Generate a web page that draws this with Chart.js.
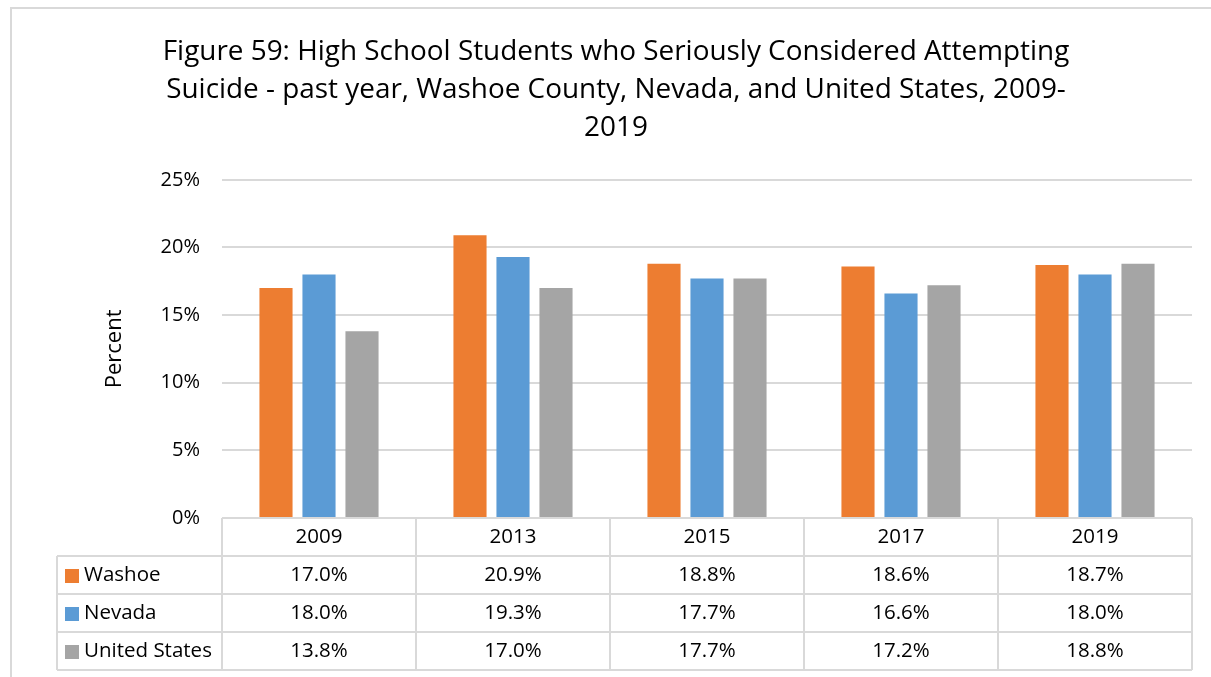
<!DOCTYPE html>
<html lang="en">
<head>
    <meta charset="UTF-8">
    <title>Figure 59</title>
    <script src="https://cdn.jsdelivr.net/npm/chart.js"></script>
    <style>
        body { margin: 0; background: #fff; }
        canvas { display: block; }
    </style>
</head>
<body>
<canvas id="suicideChart" width="1211" height="677"></canvas>

<script>
    // data
    const years = ['2009', '2013', '2015', '2017', '2019'];
    const washoe = [17.0, 20.9, 18.8, 18.6, 18.7];
    const nevada = [18.0, 19.3, 17.7, 16.6, 18.0];
    const unitedStates = [13.8, 17.0, 17.7, 17.2, 18.8];
    const yTicks = [0, 5, 10, 15, 20, 25];

    const FONT = '"Open Sans", Lato, sans-serif';
    const gridColor = '#d9d9d9';

    const series = [
        { label: 'Washoe', data: washoe, color: '#ed7d31' },
        { label: 'Nevada', data: nevada, color: '#5b9bd5' },
        { label: 'United States', data: unitedStates, color: '#a5a5a5' }
    ];

    // outer frame + the data table under the plot
    const frameAndTable = {
        id: 'frameAndTable',
        beforeDraw(chart) {
            const ctx = chart.ctx;
            ctx.save();
            ctx.strokeStyle = gridColor;
            ctx.lineWidth = 2;
            ctx.strokeRect(11, 8, 1300, 800);
            ctx.restore();
        },
        afterDraw(chart) {
            const ctx = chart.ctx;
            const area = chart.chartArea;
            const xScale = chart.scales.x;
            const rowH = 38;
            const top = area.bottom;
            const legendLeft = 57;
            const colW = (area.right - area.left) / years.length;

            ctx.save();
            ctx.strokeStyle = gridColor;
            ctx.lineWidth = 2;
            ctx.beginPath();
            // header row
            ctx.moveTo(area.left, top);
            ctx.lineTo(area.right, top);
            for (let r = 1; r <= series.length + 1; r++) {
                ctx.moveTo(legendLeft, top + r * rowH);
                ctx.lineTo(area.right, top + r * rowH);
            }
            for (let c = 0; c <= years.length; c++) {
                const x = area.left + c * colW;
                ctx.moveTo(x, top);
                ctx.lineTo(x, top + (series.length + 1) * rowH);
            }
            ctx.moveTo(legendLeft, top + rowH);
            ctx.lineTo(legendLeft, top + (series.length + 1) * rowH);
            ctx.stroke();

            ctx.fillStyle = '#000';
            ctx.font = '20.5px ' + FONT;
            ctx.textBaseline = 'middle';
            ctx.textAlign = 'center';
            years.forEach((yr, i) => {
                ctx.fillText(yr, xScale.getPixelForValue(i), top + rowH / 2);
            });
            series.forEach((s, r) => {
                const cy = top + (r + 1) * rowH + rowH / 2;
                ctx.fillStyle = s.color;
                ctx.fillRect(65, cy - 6, 14, 14);
                ctx.fillStyle = '#000';
                ctx.textAlign = 'left';
                ctx.fillText(s.label, 84, cy);
                ctx.textAlign = 'center';
                s.data.forEach((v, i) => {
                    ctx.fillText(v.toFixed(1) + '%', xScale.getPixelForValue(i), cy);
                });
            });
            ctx.restore();
        }
    };

    const ctx = document.getElementById('suicideChart').getContext('2d');
    new Chart(ctx, {
        type: 'bar',
        data: {
            labels: years,
            datasets: series.map(s => ({
                label: s.label,
                data: s.data,
                backgroundColor: s.color,
                borderWidth: 0,
                categoryPercentage: 0.665,
                barPercentage: 0.77
            }))
        },
        options: {
            responsive: false,
            animation: false,
            layout: { padding: { left: 40, right: 19, top: 0, bottom: 159 } },
            plugins: {
                legend: { display: false },
                tooltip: { enabled: false },
                title: {
                    display: true,
                    text: [
                        'Figure 59: High School Students who Seriously Considered Attempting',
                        'Suicide - past year, Washoe County, Nevada, and United States, 2009-',
                        '2019'
                    ],
                    color: '#000',
                    font: { family: FONT, size: 27.9, weight: 'normal', lineHeight: 1.36 },
                    padding: { top: 33, bottom: 33 }
                }
            },
            scales: {
                x: { display: false },
                y: {
                    min: 0,
                    max: 25,
                    afterBuildTicks(scale) {
                        scale.ticks = yTicks.map(v => ({ value: v }));
                    },
                    afterFit(scale) { scale.width = 182; },
                    border: { display: false },
                    grid: { color: gridColor, lineWidth: 2, drawTicks: false },
                    ticks: {
                        padding: 22,
                        color: '#000',
                        font: { family: FONT, size: 20 },
                        callback: v => v + '%'
                    },
                    title: {
                        display: true,
                        text: 'Percent',
                        color: '#000',
                        font: { family: FONT, size: 22 },
                        padding: { top: 62, bottom: 0 }
                    }
                }
            }
        },
        plugins: [frameAndTable]
    });
</script>
</body>
</html>
